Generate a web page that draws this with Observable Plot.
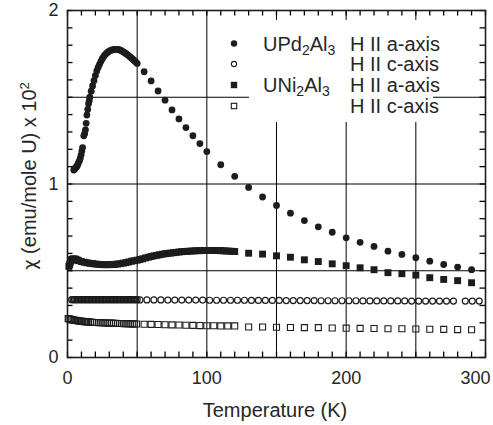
<!DOCTYPE html>
<html><head><meta charset="utf-8">
<script src="https://cdn.jsdelivr.net/npm/d3@7"></script>
<script src="https://cdn.jsdelivr.net/npm/@observablehq/plot@0.6"></script>
<style>
body{margin:0;background:#fff}
#chart{position:relative;width:493px;height:425px}
</style>
</head><body><div id="chart"></div>
<script>
// ---- data: [Temperature (K), chi (emu/mole U) x 10^2] ----
const upd2al3_a = [
 [4.5,1.080],[5,1.085],[5.5,1.090],[6,1.095],[6.5,1.100],[7,1.105],[7.5,1.115],[8,1.125],[8.6,1.135],[9.2,1.150],
 [9.8,1.168],[10.3,1.190],[10.8,1.210],[11.7,1.278],[12.3,1.290],[12.9,1.312],[13.4,1.350],[13.9,1.397],[14.5,1.430],[15.1,1.463],
 [15.6,1.480],[16,1.500],[17,1.535],[18,1.565],[19,1.595],[20,1.625],[21,1.652],[22,1.672],[23,1.690],[24,1.707],
 [25,1.722],[26,1.735],[27,1.745],[28,1.753],[29,1.760],[30,1.766],[31,1.770],[32,1.773],[33,1.775],[34,1.776],
 [35,1.776],[36,1.776],[37,1.774],[38,1.771],[39,1.767],[40,1.762],[41,1.757],[42,1.751],[43,1.745],[44,1.739],
 [45,1.732],[46,1.725],[47,1.718],[48,1.711],[49,1.703],[50,1.695],
 [55,1.647],[60,1.594],[65,1.536],[70,1.483],[75,1.427],[80,1.375],[85,1.325],[90,1.278],[95,1.233],[100,1.187],
 [110,1.111],[120,1.044],[130,0.980],[140,0.925],[150,0.876],[160,0.832],[170,0.789],[180,0.753],[190,0.722],[200,0.690],
 [210,0.664],[220,0.640],[230,0.613],[240,0.594],[250,0.575],[260,0.555],[270,0.536],[280,0.521],[290,0.506]
];
const upd2al3_c = [
 [3,0.333],[4,0.333],[5,0.333],[6,0.333],[7,0.333],[8,0.333],[9,0.333],[10,0.333],[11,0.333],[12,0.333],
 [13,0.333],[14,0.333],[15,0.333],[16,0.333],[17,0.333],[18,0.333],[19,0.333],[20,0.333],[21,0.333],[22,0.333],
 [23,0.333],[24,0.333],[25,0.333],[26,0.333],[27,0.333],[28,0.333],[29,0.333],[30,0.333],[31,0.333],[32,0.333],
 [33,0.333],[34,0.333],[35,0.333],[36,0.333],[37,0.333],[38,0.333],[39,0.333],[40,0.333],[41,0.333],[42,0.333],
 [43,0.333],[44,0.333],[45,0.333],[46,0.333],[47,0.333],[48,0.333],[49,0.333],[50,0.333],
 [52,0.332],[57,0.332],[62,0.332],[67,0.332],[72,0.331],[77,0.331],[82,0.331],[87,0.331],[92,0.331],[97,0.331],
 [102,0.330],[107,0.330],[112,0.330],[117,0.330],[122,0.330],[127,0.330],[132,0.329],[137,0.329],[142,0.329],[147,0.329],
 [152,0.329],[157,0.328],[162,0.328],[167,0.328],[172,0.328],[177,0.328],[182,0.327],[187,0.327],[192,0.327],[197,0.327],
 [202,0.327],[207,0.327],[212,0.326],[217,0.326],[222,0.326],[227,0.326],[232,0.326],[237,0.326],[242,0.326],[247,0.325],
 [252,0.325],[257,0.325],[262,0.325],[267,0.325],[272,0.325],[277,0.325],[285.5,0.325],[290.5,0.325],[295.5,0.325]
];
const uni2al3_a = [
 [1,0.525],[1.5,0.535],[2,0.548],[2.5,0.558],[3,0.565],[4,0.569],[5,0.568],[6,0.566],[7,0.562],[8,0.558],
 [10,0.553],[12,0.549],[14,0.546],[16,0.543],[18,0.541],[20,0.539],[22,0.537],[24,0.536],[26,0.535],[28,0.535],
 [30,0.535],[32,0.536],[34,0.537],[36,0.539],[38,0.541],[40,0.544],[42,0.547],[44,0.551],[46,0.555],[48,0.558],
 [50,0.561],[52,0.565],[54,0.569],[56,0.574],[58,0.578],[60,0.582],[62,0.586],[64,0.589],[66,0.592],[68,0.595],
 [70,0.598],[72,0.600],[74,0.602],[76,0.604],[78,0.606],[80,0.608],[82,0.610],[84,0.611],[86,0.612],[88,0.613],
 [90,0.614],[92,0.615],[94,0.616],[96,0.616],[98,0.617],[100,0.617],[102,0.617],[104,0.617],[106,0.617],[108,0.616],
 [110,0.616],[112,0.615],[114,0.614],[116,0.613],[118,0.612],[120,0.611],
 [130,0.601],[140,0.596],[150,0.586],[160,0.578],[170,0.563],[180,0.553],[190,0.540],[200,0.529],[210,0.517],[220,0.506],
 [230,0.489],[240,0.483],[250,0.475],[260,0.460],[270,0.450],[280,0.443],[290,0.431]
];
const uni2al3_c = [
 [0.5,0.224],[1,0.223],[2,0.221],[3,0.219],[4,0.217],[5,0.215],[6,0.214],[7,0.212],[8,0.211],[9,0.210],
 [10,0.209],[11,0.208],[12,0.207],[13,0.206],[14,0.205],[15,0.205],[16.5,0.204],[18,0.203],[19.5,0.202],[21,0.202],
 [22.5,0.201],[24,0.200],[25.5,0.200],[27,0.199],[28.5,0.199],[30,0.198],[31.5,0.198],[33,0.197],[34.5,0.197],[36,0.196],
 [37.5,0.196],[39,0.196],[40.5,0.195],[42,0.195],[43.5,0.195],[45,0.194],[46.5,0.194],[48,0.194],[49.5,0.193],
 [55,0.192],[60,0.191],[65,0.190],[70,0.189],[75,0.188],[80,0.187],[85,0.186],[90,0.185],[95,0.184],[100,0.183],
 [105,0.183],[110,0.182],[115,0.182],[120,0.182],
 [130,0.176],[140,0.176],[150,0.174],[160,0.173],[170,0.172],[180,0.172],[190,0.170],[200,0.169],[210,0.168],[220,0.167],
 [230,0.166],[240,0.166],[250,0.164],[260,0.163],[270,0.162],[280,0.161],[290,0.160]
];
const xTickLabels = [0, 100, 200];
const xTickLabelsEnd = [300];
const yTickLabels = [0, 1, 2];
const xGrid = [50, 100, 150, 200, 250];
const yGrid = [0.5, 1, 1.5];
const xMinor = d3.range(0, 301, 10);
const yMinor = d3.range(0, 21, 1).map(d => d / 10);
const legendRows = [
  {compound: ["UPd", "2", "Al", "3"], field: "H II a-axis", symbol: "filledCircle"},
  {compound: null, field: "H II c-axis", symbol: "openCircle"},
  {compound: ["UNi", "2", "Al", "3"], field: "H II a-axis", symbol: "filledSquare"},
  {compound: null, field: "H II c-axis", symbol: "openSquare"}
];
const xLabel = "Temperature (K)";
const yLabelChi = "χ";
const yLabel = " (emu/mole U) x 10";

const W = 493, H = 425, mL = 67, mR = 8, mT = 10, mB = 68;
const innerW = W - mL - mR, innerH = H - mT - mB, tickLen = 5.5;
const ink = "#1c1c1c";
const txt = "#262626";
const X = d => d[0], Y = d => d[1], I = d => d;
const fmt = d => String(d);

const plot = Plot.plot({
  width: W, height: H,
  marginLeft: mL, marginRight: mR, marginTop: mT, marginBottom: mB,
  style: {fontFamily: "'Liberation Sans', Arial, sans-serif", fontSize: "18px", color: txt, background: "#fff"},
  x: {domain: [0, 300], nice: false},
  y: {domain: [0, 2], nice: false},
  marks: [
    Plot.gridX(xGrid, {stroke: "#000", strokeOpacity: 1, strokeWidth: 1}),
    Plot.gridY(yGrid, {stroke: "#000", strokeOpacity: 1, strokeWidth: 1}),
    // inward minor ticks on all four sides
    Plot.tickX(xMinor, {x: I, insetTop: innerH - tickLen, stroke: "#000", strokeWidth: 1.3}),
    Plot.tickX(xMinor, {x: I, insetBottom: innerH - tickLen, stroke: "#000", strokeWidth: 1.3}),
    Plot.tickY(yMinor, {y: I, insetRight: innerW - tickLen, stroke: "#000", strokeWidth: 1.3}),
    Plot.tickY(yMinor, {y: I, insetLeft: innerW - tickLen, stroke: "#000", strokeWidth: 1.3}),
    Plot.axisX({anchor: "bottom", ticks: xTickLabels, tickSize: 0, tickPadding: 14, tickFormat: fmt, label: null, fill: txt}),
    Plot.axisX({anchor: "bottom", ticks: xTickLabelsEnd, tickSize: 0, tickPadding: 14, dx: -10, tickFormat: fmt, label: null, fill: txt}),
    Plot.axisY({anchor: "left", ticks: yTickLabels, tickSize: 0, tickPadding: 9, tickFormat: fmt, label: null, fill: txt}),
    Plot.dot(uni2al3_c, {x: X, y: Y, symbol: "square", r: 3.4, stroke: ink, strokeWidth: 1.1, fill: "none"}),
    Plot.dot(upd2al3_c, {x: X, y: Y, r: 3.0, stroke: ink, strokeWidth: 1.2, fill: "none"}),
    Plot.dot(uni2al3_a, {x: X, y: Y, symbol: "square", r: 3.9, fill: ink, stroke: "none"}),
    Plot.dot(upd2al3_a, {x: X, y: Y, r: 3.4, fill: ink, stroke: "none"}),
    Plot.frame({stroke: ink, strokeWidth: 1.6})
  ]
});

const svg = d3.select(plot);
// axis titles
svg.append("text")
  .attr("x", 275).attr("y", 417)
  .attr("text-anchor", "middle")
  .style("font-size", "20px").attr("fill", txt)
  .text(xLabel);
const yl = svg.append("text")
  .attr("transform", "translate(29,176) rotate(-90)")
  .attr("dy", "0.36em")
  .attr("text-anchor", "middle")
  .style("font-size", "20px").attr("fill", txt);
yl.append("tspan").style("font-family", "'DejaVu Sans', sans-serif").style("font-size", "18px").text(yLabelChi);
yl.append("tspan").text(yLabel);
yl.append("tspan").attr("dy", "-0.55em").style("font-size", "13px").text("2");

// legend
const lg = svg.append("g").attr("text-anchor", "start");
lg.append("rect").attr("x", 249).attr("y", 20).attr("width", 184).attr("height", 102).attr("fill", "#fff");
const rowY = [43.5, 64, 85, 106];
legendRows.forEach((row, i) => {
  const cy = rowY[i];
  if (row.symbol === "filledCircle") lg.append("circle").attr("cx", 234).attr("cy", cy).attr("r", 3.2).attr("fill", ink);
  if (row.symbol === "openCircle") lg.append("circle").attr("cx", 234).attr("cy", cy).attr("r", 2.6).attr("fill", "none").attr("stroke", ink).attr("stroke-width", 1.1);
  if (row.symbol === "filledSquare") lg.append("rect").attr("x", 234 - 3.2).attr("y", cy - 3.2).attr("width", 6.4).attr("height", 6.4).attr("fill", ink);
  if (row.symbol === "openSquare") lg.append("rect").attr("x", 234 - 2.7).attr("y", cy - 2.7).attr("width", 5.4).attr("height", 5.4).attr("fill", "none").attr("stroke", ink).attr("stroke-width", 1.1);
  if (row.compound) {
    const t = lg.append("text").attr("x", 263).attr("y", cy + 7.2).attr("text-anchor", "start").style("font-size", "20px").attr("fill", txt);
    row.compound.forEach((part, j) => {
      if (j % 2 === 1) t.append("tspan").attr("dy", 4).style("font-size", "14px").text(part);
      else t.append("tspan").attr("dy", j === 0 ? 0 : -4).text(part);
    });
  }
  lg.append("text").attr("x", 350).attr("y", cy + 7.2).attr("text-anchor", "start").style("font-size", "20px").attr("fill", txt).text(row.field);
});

document.getElementById("chart").appendChild(plot);
</script>
</body></html>
